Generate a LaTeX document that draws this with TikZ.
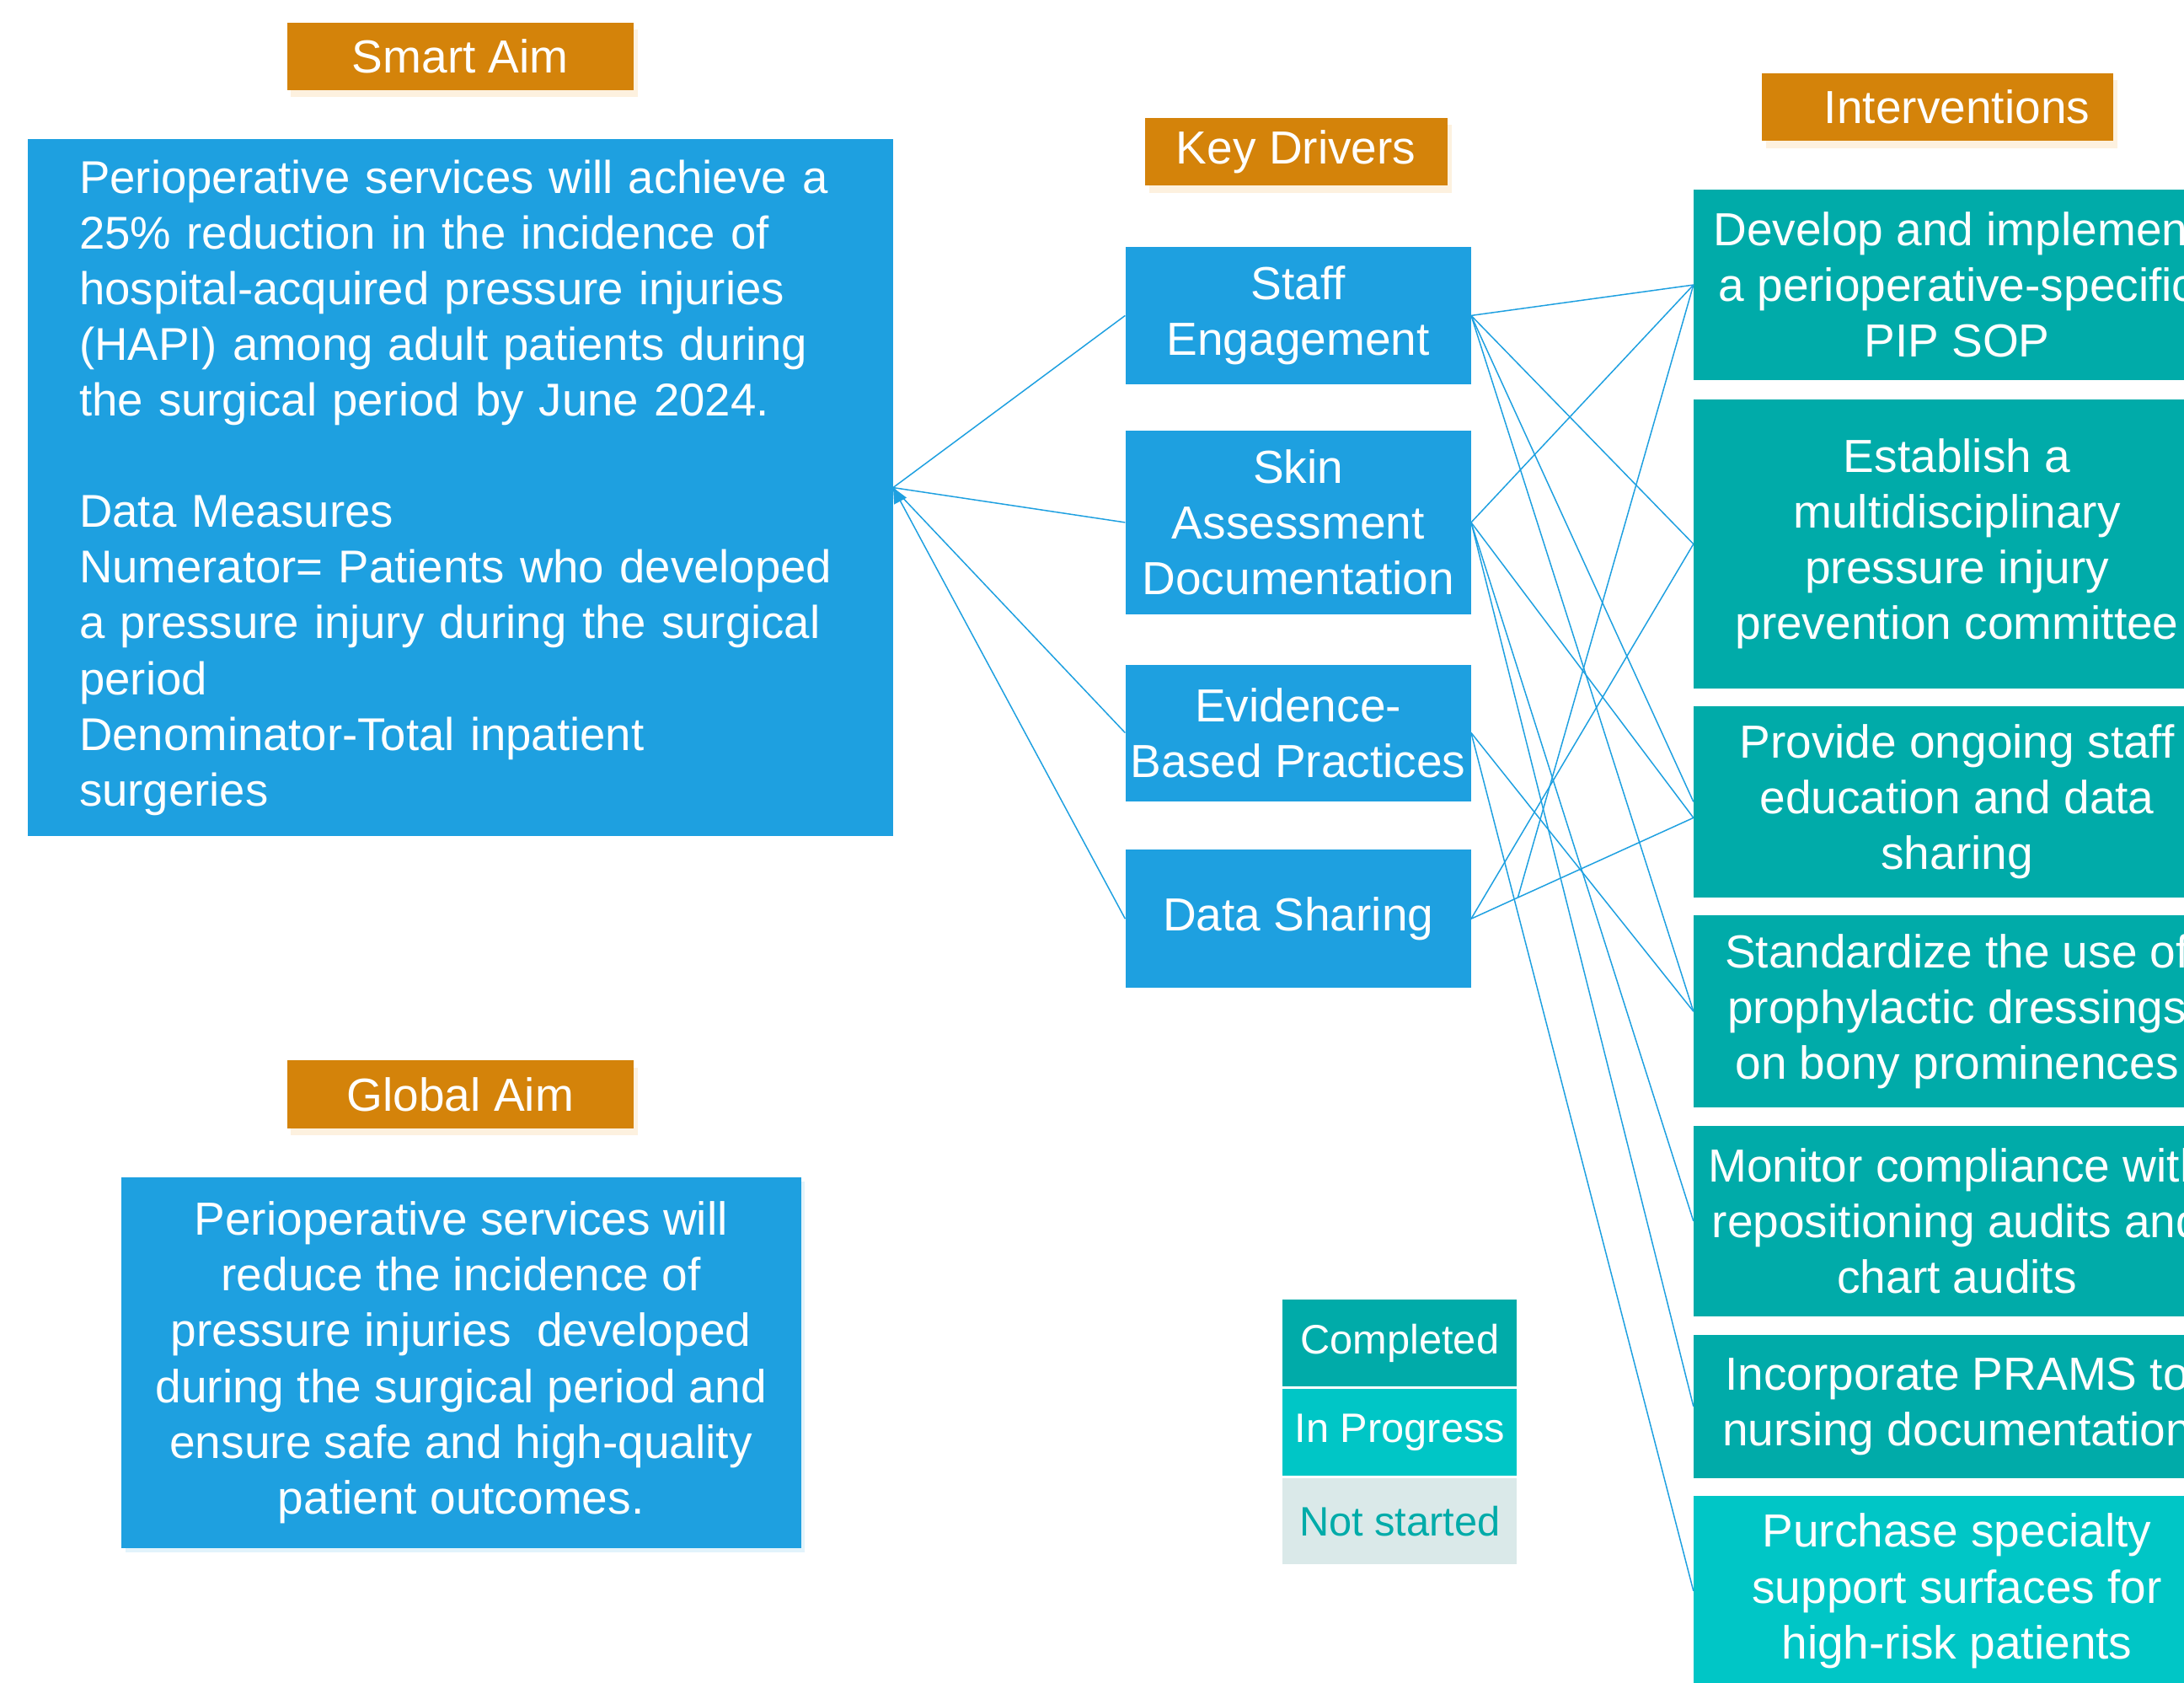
\documentclass[tikz,border=0pt]{standalone}
\usepackage{fontspec}
\setmainfont{Liberation Sans}
\usetikzlibrary{arrows.meta,shadows,calc}
\definecolor{aimblue}{HTML}{1EA0E0}
\definecolor{labelorange}{HTML}{D4830A}
\definecolor{doneteal}{HTML}{00ABA9}
\definecolor{progcyan}{HTML}{00C6C6}
\definecolor{notgray}{HTML}{DAE9E9}
\definecolor{shadecream}{HTML}{FDF1DF}
\definecolor{shadeblue}{HTML}{E2F3FB}
\tikzstyle{heading}=[fill=labelorange, text=white, minimum height=48.5pt, inner sep=0pt, drop shadow={shadow xshift=3pt, shadow yshift=-5pt, fill=shadecream, opacity=1}]
\tikzstyle{driver}=[fill=aimblue, text=white, minimum width=248pt, inner sep=0pt, align=center]
\tikzstyle{action}=[fill=doneteal, text=white, minimum width=378pt, inner sep=0pt, align=center]
\tikzstyle{legendbox}=[minimum width=168pt, minimum height=62pt, inner sep=0pt, font=\fontsize{29.5}{35}\selectfont]
\tikzstyle{link}=[aimblue, line width=0.9pt]

\begin{document}
\begin{tikzpicture}[x=1pt, y=-1pt, font=\fontsize{33.3}{40}\selectfont]
\clip (0,0) rectangle (1568,1208);

\node[heading, minimum width=249pt] (smartlbl) at (330.5, 40.5) {Smart Aim};
\node[heading, minimum width=249pt] (globallbl) at (330.5, 785.5) {Global Aim};
\node[heading, minimum width=217pt] (driverlbl) at (930.5, 109) {Key Drivers};
\node[heading, minimum width=252pt] (actionlbl) at (1391, 77) {\hspace*{28pt}Interventions};

\node[fill=aimblue, text=white, minimum width=621pt, minimum height=500pt, text width=547pt, align=left, inner xsep=37pt, inner ysep=0pt, font=\fontsize{33}{40}\selectfont] (smart) at (330.5, 350)
  {Perioperative services will achieve a\\25\% reduction in the incidence of\\hospital-acquired pressure injuries\\(HAPI) among adult patients during\\the surgical period by June 2024.\\[40pt]Data Measures\\Numerator= Patients who developed\\a pressure injury during the surgical\\period\\Denominator-Total inpatient\\surgeries};
\node[fill=aimblue, text=white, minimum width=488pt, minimum height=266pt, inner sep=0pt, align=center, drop shadow={shadow xshift=3pt, shadow yshift=-3pt, fill=shadeblue, opacity=1}] (global) at (331, 978)
  {Perioperative services will\\reduce the incidence of\\pressure injuries~ developed\\during the surgical period and\\ensure safe and high-quality\\patient outcomes.};

\node[driver, minimum height=99pt] (d1) at (932, 226.5) {Staff\\Engagement};
\node[driver, minimum height=132pt] (d2) at (932, 375) {Skin\\Assessment\\Documentation};
\node[driver, minimum height=98pt] (d3) at (932, 526) {Evidence-\\Based Practices};
\node[driver, minimum height=99pt] (d4) at (932, 659.5) {Data Sharing};

\node[action, minimum height=137pt] (i1) at (1405, 204.5) {Develop and implement\\a perioperative-specific\\PIP SOP};
\node[action, minimum height=207pt] (i2) at (1405, 390.5) {Establish a\\multidisciplinary\\pressure injury\\prevention committee};
\node[action, minimum height=137pt] (i3) at (1405, 575.5) {Provide ongoing staff\\education and data\\sharing};
\node[action, minimum height=138pt] (i4) at (1405, 726) {Standardize the use of\\prophylactic dressings\\on bony prominences};
\node[action, minimum height=137pt] (i5) at (1405, 876.5) {Monitor compliance with\\repositioning audits and\\chart audits};
\node[action, minimum height=103pt] (i6) at (1405, 1009.5) {Incorporate PRAMS to\\nursing documentation};
\node[action, fill=progcyan, minimum height=136pt] (i7) at (1405, 1142) {Purchase specialty\\support surfaces for\\high-risk patients};

\node[legendbox, fill=doneteal, text=white] (done) at (1005, 964) {Completed};
\node[legendbox, fill=progcyan, text=white] (prog) at (1005, 1028) {In Progress};
\node[legendbox, fill=notgray, text=doneteal] (todo) at (1005, 1092) {Not started};

\draw[link] (d1.west) -- (smart.east);
\draw[link] (d2.west) -- (smart.east);
\draw[link] (d3.west) -- (smart.east);
\draw[link, -{Triangle[length=11pt, width=10pt]}] (d4.west) -- (smart.east);

\coordinate (i3low) at ([yshift=-11.5pt]i3.west);
\draw[link] (d1.east) -- (i1.west);
\draw[link] (d1.east) -- (i2.west);
\draw[link] (d1.east) -- (i3.west);
\draw[link] (d1.east) -- (i4.west);
\draw[link] (d2.east) -- (i1.west);
\draw[link] (d2.east) -- (i3low);
\draw[link] (d2.east) -- (i5.west);
\draw[link] (d2.east) -- (i6.west);
\draw[link] (d3.east) -- (i4.west);
\draw[link] (d3.east) -- (i7.west);
\draw[link] (d4.east) -- (i2.west);
\draw[link] (d4.east) -- (i3low);
\coordinate (dsjoin) at ($(d4.east)!0.21!(i3low)$);
\draw[link] (dsjoin) -- (i1.west);

\end{tikzpicture}
\end{document}
